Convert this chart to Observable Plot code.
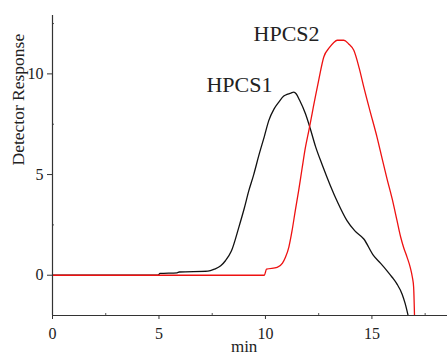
<!DOCTYPE html>
<html>
<head>
<meta charset="utf-8">
<script src="https://cdn.jsdelivr.net/npm/d3@7"></script>
<script src="https://cdn.jsdelivr.net/npm/@observablehq/plot@0.6"></script>
<style>
  html, body { margin: 0; padding: 0; background: #fff; }
  #chart { position: relative; width: 447px; height: 356px; overflow: hidden; }
  #chart svg text { font-family: "Liberation Serif", "Times New Roman", serif; }
</style>
</head>
<body>
<div id="chart"></div>
<script>
const hpcs1X = [0, 4.95, 5.05, 5.85, 5.95, 7.3, 7.6, 7.9, 8.12, 8.4, 8.75, 9.0, 9.22, 9.45, 9.69, 9.95, 10.16, 10.4, 10.63, 10.86, 11.05, 11.2, 11.33, 11.45, 11.6, 11.88, 12.1, 12.35, 12.66, 13.05, 13.4, 13.83, 14.2, 14.62, 15.08, 15.4, 15.71, 15.95, 16.18, 16.42, 16.56, 16.7];
const hpcs1Y = [0, 0, 0.09, 0.12, 0.16, 0.2, 0.3, 0.47, 0.72, 1.2, 2.38, 3.3, 4.2, 5.0, 5.95, 6.9, 7.69, 8.25, 8.6, 8.9, 9.0, 9.05, 9.09, 9.0, 8.7, 8.02, 7.3, 6.4, 5.5, 4.45, 3.6, 2.71, 2.2, 1.8, 0.97, 0.6, 0.22, -0.1, -0.44, -0.94, -1.4, -2];
const hpcs2X = [0, 9.95, 10.05, 10.55, 10.8, 10.94, 11.1, 11.25, 11.4, 11.56, 11.72, 11.88, 12.04, 12.19, 12.35, 12.5, 12.74, 13.0, 13.2, 13.37, 13.68, 13.9, 14.15, 14.4, 14.62, 14.9, 15.24, 15.5, 15.71, 15.95, 16.18, 16.35, 16.49, 16.65, 16.8, 16.9, 16.96, 17.0];
const hpcs2Y = [0, 0, 0.3, 0.39, 0.6, 0.89, 1.4, 2.21, 3.2, 4.2, 5.3, 6.36, 7.2, 8.02, 8.9, 9.68, 10.84, 11.3, 11.55, 11.67, 11.67, 11.5, 11.17, 10.3, 9.34, 8.2, 6.86, 5.7, 4.79, 3.8, 2.71, 1.9, 1.38, 0.9, 0.39, -0.1, -0.6, -2];
const seriesNames = ["HPCS1", "HPCS2"];
const seriesColors = ["#111111", "#ee1111"];
const labelX = [8.78, 10.99];
const labelY = [9.45, 11.97];
const xTicks = [0, 5, 10, 15];
const yTicks = [0, 5, 10];
const xMinor = [2.5, 7.5, 12.5, 17.5];
const yMinor = [2.5, 7.5, 12.5];

const rows1 = hpcs1X.map((x, i) => ({x, y: hpcs1Y[i], s: seriesNames[0]}));
const rows2 = hpcs2X.map((x, i) => ({x, y: hpcs2Y[i], s: seriesNames[1]}));
const labels = seriesNames.map((s, i) => ({s, x: labelX[i], y: labelY[i]}));

const font = "Liberation Serif";

const chart = Plot.plot({
  width: 447,
  height: 356,
  marginLeft: 52,
  marginRight: 0,
  marginTop: 15,
  marginBottom: 41,
  style: {fontSize: "16px", color: "#222", background: "#fff"},
  x: {domain: [0, 18.55]},
  y: {domain: [-2, 12.9]},
  marks: [
    Plot.axisX({ticks: xTicks, tickSize: 4, tickPadding: 8, fontSize: 16, fontFamily: font, label: null, stroke: "#333"}),
    Plot.axisX({ticks: xMinor, tickSize: -2, tickFormat: () => "", label: null, stroke: "#555"}),
    Plot.axisY({ticks: yTicks, tickSize: 5, tickPadding: 4, fontSize: 16, fontFamily: font, label: null, stroke: "#333"}),
    Plot.axisY({ticks: yMinor, tickSize: -2, tickFormat: () => "", label: null, stroke: "#555"}),
    Plot.line(rows1, {x: "x", y: "y", stroke: seriesColors[0], strokeWidth: 1.3, curve: "monotone-x", clip: true}),
    Plot.line(rows2, {x: "x", y: "y", stroke: seriesColors[1], strokeWidth: 1.3, curve: "monotone-x", clip: true}),
    Plot.ruleY([-2], {stroke: "#333", strokeWidth: 1.2}),
    Plot.ruleX([0], {stroke: "#333", strokeWidth: 1.2}),
    Plot.text(labels, {x: "x", y: "y", text: "s", fontSize: 22, fill: "#222", textAnchor: "middle", fontFamily: font}),
    Plot.text(["Detector Response"], {frameAnchor: "left", dx: -34, rotate: -90, fontSize: 17.5, fill: "#222", fontFamily: font}),
    Plot.text(["min"], {x: 9, frameAnchor: "bottom", dy: 36, lineAnchor: "bottom", fontSize: 17, fill: "#222", fontFamily: font})
  ]
});
document.getElementById("chart").appendChild(chart);
</script>
</body>
</html>
